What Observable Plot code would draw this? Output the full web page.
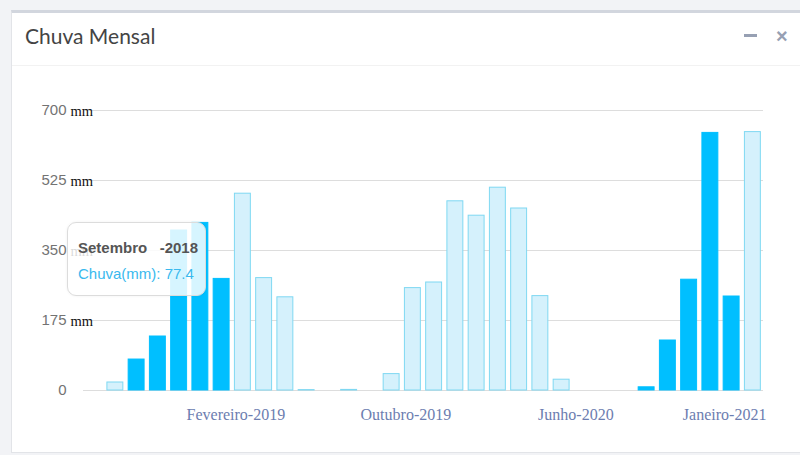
<!DOCTYPE html>
<html>
<head>
<meta charset="utf-8">
<script src="https://cdn.jsdelivr.net/npm/d3@7"></script>
<script src="https://cdn.jsdelivr.net/npm/@observablehq/plot@0.6"></script>
<style>
  html, body { margin: 0; padding: 0; }
  body { width: 800px; height: 455px; position: relative; background: #f2f3f6; overflow: hidden; font-family: "Liberation Sans", Arial, sans-serif; }
  #panel { position: absolute; left: 11px; top: 10px; width: 789px; height: 443px; background: #fff;
           border-top: 3px solid #d2d6de; border-left: 1px solid #e2e4e8; border-bottom: 1px solid #e2e4e8; box-sizing: border-box; }
  #title { position: absolute; left: 25px; top: 23px; font-family: Lato, "Open Sans", sans-serif; font-size: 21px; color: #444; }
  #sep { position: absolute; left: 12px; right: 0; top: 65px; height: 1px; background: #f2f2f2; }
  .icon { position: absolute; font-family: "Liberation Sans", Arial, sans-serif; font-weight: bold; color: #97a0b3; }
  #minus { left: 744px; top: 34px; width: 13px; height: 3px; background: #97a0b3; }
  #close { left: 776px; top: 25px; font-size: 20px; }
  #chart { position: absolute; left: 0; top: 80px; }
  #tip { position: absolute; left: 67px; top: 222px; width: 139px; height: 74px; box-sizing: border-box;
         background: rgba(255,255,255,0.84); border: 1px solid #dcdcdc; border-radius: 9px;
         box-shadow: 0 0 3px rgba(0,0,0,0.06); padding: 16px 0 0 10px; font-family: "Liberation Sans", Arial, sans-serif; }
  #tip .l1 { font-weight: bold; color: #555; font-size: 15px; line-height: 18px; white-space: pre; }
  #tip .l2 { color: #39b9ee; font-size: 15px; line-height: 18px; margin-top: 8px; white-space: pre; }
</style>
</head>
<body>
<div id="panel"></div>
<div id="title">Chuva Mensal</div>
<div id="sep"></div>
<div class="icon" id="minus"></div>
<div class="icon" id="close">&#215;</div>
<div id="chart"></div>
<div id="tip"><div class="l1"></div><div class="l2"></div></div>
<script>
const meses = [
  "Julho-2018","Agosto-2018","Setembro-2018","Outubro-2018","Novembro-2018","Dezembro-2018",
  "Janeiro-2019","Fevereiro-2019","Março-2019","Abril-2019","Maio-2019","Junho-2019",
  "Julho-2019","Agosto-2019","Setembro-2019","Outubro-2019","Novembro-2019","Dezembro-2019",
  "Janeiro-2020","Fevereiro-2020","Março-2020","Abril-2020","Maio-2020","Junho-2020",
  "Julho-2020","Agosto-2020","Setembro-2020","Outubro-2020","Novembro-2020","Dezembro-2020",
  "Janeiro-2021","Fevereiro-2021"
];
const chuva = [
  0, 20, 77.4, 135, 400, 419,
  279, 492, 281, 233, 1, 0,
  1.5, 0, 41, 256, 270, 473,
  437, 507, 455, 236, 27, 0,
  0, 0, 8, 125, 277, 644,
  235, 646
];
const serie = [
  "claro","claro","escuro","escuro","escuro","escuro",
  "escuro","claro","claro","claro","claro","claro",
  "claro","claro","claro","claro","claro","claro",
  "claro","claro","claro","claro","claro","claro",
  "claro","claro","escuro","escuro","escuro","escuro",
  "escuro","claro"
];
const ticksX = ["Fevereiro-2019","Outubro-2019","Junho-2020","Janeiro-2021"];
const ticksY = [0, 175, 350, 525, 700];
const tooltipIndex = 2;

const data = meses.map((m, i) => ({mes: m, chuva: chuva[i], serie: serie[i]})).filter(d => d.chuva > 0);

const chart = Plot.plot({
  width: 800,
  height: 360,
  marginLeft: 83,
  marginRight: 37,
  marginTop: 30,
  marginBottom: 50,
  style: {fontFamily: "'Liberation Sans', Arial, sans-serif", background: "transparent"},
  x: {domain: meses, paddingInner: 0.25, paddingOuter: 0.125, round: false, axis: null},
  y: {domain: [0, 700], axis: null},
  color: {domain: ["escuro", "claro"], range: ["#00bfff", "#d5f1fc"]},
  marks: [
    Plot.gridY(ticksY, {stroke: "#dddddd", strokeOpacity: 1, strokeWidth: 1}),
    Plot.axisY(ticksY, {tickSize: 0, tickPadding: 17, fontSize: 15, color: "#737373", fontFamily: "'Liberation Sans', Arial, sans-serif", label: null}),
    Plot.text(ticksY.filter(v => v > 0), {y: d => d, text: () => "mm", frameAnchor: "left", textAnchor: "start", dx: -13, dy: 1, fontSize: 14.5, fill: "#111", fontFamily: "'Liberation Serif', 'Times New Roman', serif"}),
    Plot.barY(data, {x: "mes", y: "chuva", fill: "serie", stroke: d => d.serie === "claro" ? "#7fd8f2" : "#00bfff", strokeWidth: 1}),
    Plot.axisX(ticksX, {tickSize: 0, tickPadding: 18, dx: -7, fontSize: 16, color: "#6c7db0", fontFamily: "'Liberation Serif', 'Times New Roman', serif", label: null})
  ]
});
document.getElementById("chart").appendChild(chart);

const [nomeMes, ano] = meses[tooltipIndex].split("-");
document.querySelector("#tip .l1").textContent = nomeMes + "   -" + ano;
document.querySelector("#tip .l2").textContent = "Chuva(mm): " + chuva[tooltipIndex];
</script>
</body>
</html>
